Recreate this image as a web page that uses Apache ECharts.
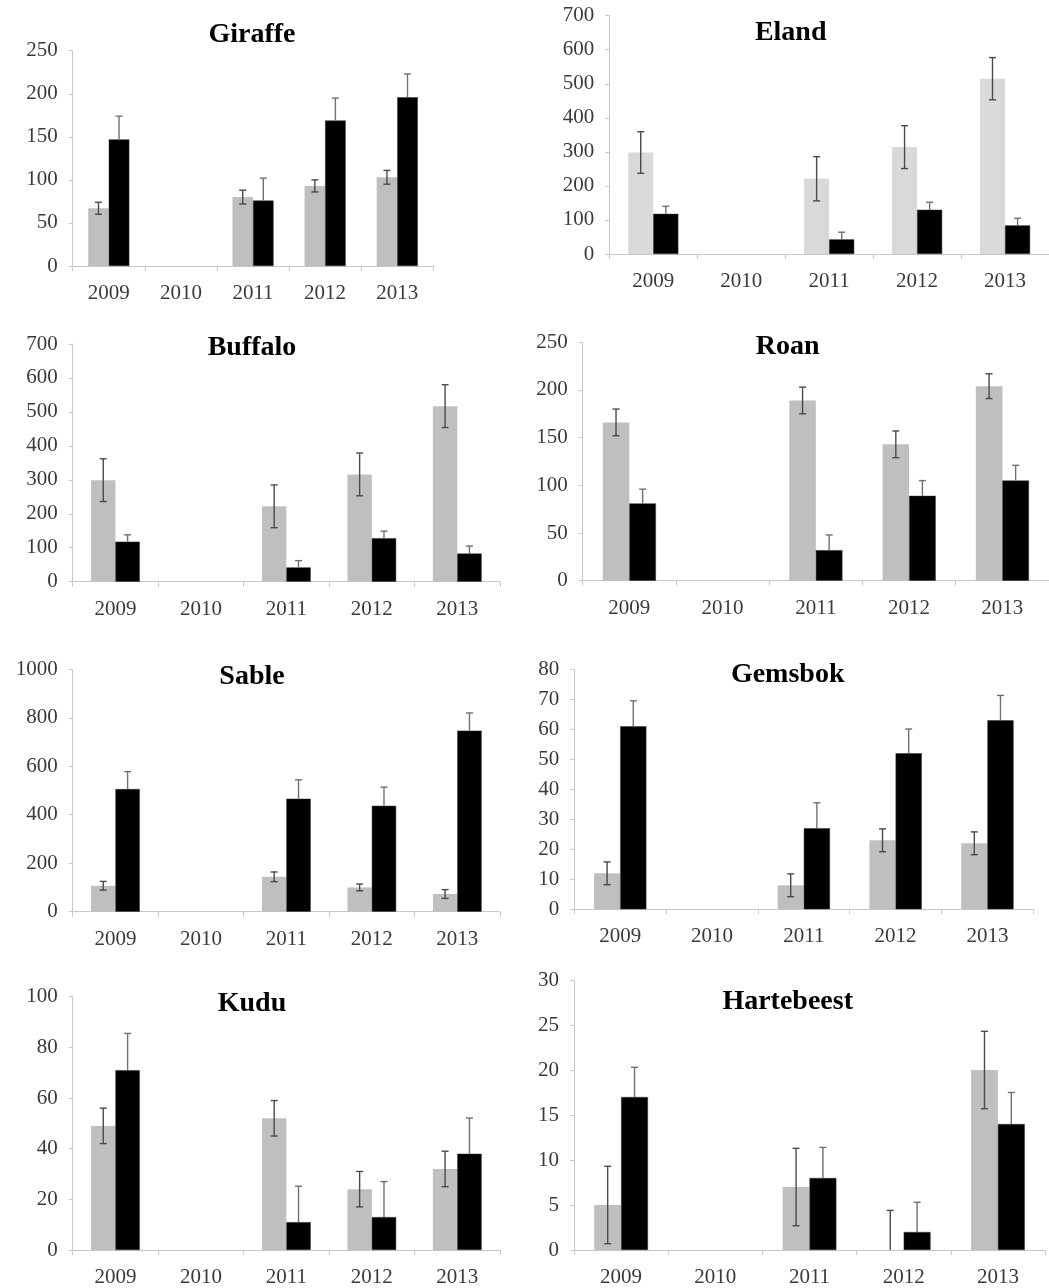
<!DOCTYPE html>
<html>
<head>
<meta charset="utf-8">
<script src="https://cdn.jsdelivr.net/npm/echarts@6/dist/echarts.min.js"></script>
<style>html,body{margin:0;padding:0;background:#fff;}#c{width:1049px;height:1288px;}</style>
</head>
<body>
<div id="c"></div>
<script>
const categories = ['2009', '2010', '2011', '2012', '2013'];

const giraffeGray = [67, null, 80, 93, 103];
const giraffeGrayErr = [7, null, 8, 7, 8];
const giraffeBlack = [147, null, 76, 169, 196];
const giraffeBlackErr = [27, null, 26, 26, 27];

const elandGray = [298, null, 221, 314, 515];
const elandGrayErr = [61, null, 65, 63, 62];
const elandBlack = [118, null, 43, 130, 84];
const elandBlackErr = [22, null, 21, 22, 21];

const buffaloGray = [299, null, 222, 316, 517];
const buffaloGrayErr = [63, null, 63, 63, 63];
const buffaloBlack = [118, null, 42, 128, 83];
const buffaloBlackErr = [20, null, 20, 21, 22];

const roanGray = [166, null, 189, 143, 204];
const roanGrayErr = [14, null, 14, 14, 13];
const roanBlack = [81, null, 32, 89, 105];
const roanBlackErr = [15, null, 16, 16, 16];

const sableGray = [107, null, 144, 100, 73];
const sableGrayErr = [18, null, 20, 14, 18];
const sableBlack = [506, null, 466, 437, 747];
const sableBlackErr = [72, null, 78, 77, 73];

const gemsbokGray = [12, null, 8, 23, 22];
const gemsbokGrayErr = [3.8, null, 3.8, 3.8, 3.8];
const gemsbokBlack = [61, null, 27, 52, 63];
const gemsbokBlackErr = [8.5, null, 8.5, 8.1, 8.3];

const kuduGray = [49, null, 52, 24, 32];
const kuduGrayErr = [7, null, 7, 7, 7];
const kuduBlack = [71, null, 11, 13, 38];
const kuduBlackErr = [14.5, null, 14.2, 14, 14.1];

const hartebeestGray = [5, null, 7, 0, 20];
const hartebeestGrayErr = [4.3, null, 4.3, 4.4, 4.3];
const hartebeestBlack = [17, null, 8, 2, 14];
const hartebeestBlackErr = [3.3, null, 3.4, 3.3, 3.5];

// panel definitions (layout kept separate from data)
const panels = [
  {name: 'Giraffe', gray: giraffeGray, grayErr: giraffeGrayErr, black: giraffeBlack, blackErr: giraffeBlackErr, max: 250, interval: 50, grayColor: '#bfbfbf',
   grid: {left: 72.7, top: 50.7, width: 360.6, height: 215.3}, title: [252, 35]},
  {name: 'Eland', gray: elandGray, grayErr: elandGrayErr, black: elandBlack, blackErr: elandBlackErr, max: 700, interval: 100, grayColor: '#d9d9d9',
   grid: {left: 609.3, top: 15.7, width: 444.5, height: 238.3}, title: [790.7, 33]},
  {name: 'Buffalo', gray: buffaloGray, grayErr: buffaloGrayErr, black: buffaloBlack, blackErr: buffaloBlackErr, max: 700, interval: 100, grayColor: '#bfbfbf',
   grid: {left: 72.7, top: 344, width: 427.3, height: 237.7}, title: [252, 348]},
  {name: 'Roan', gray: roanGray, grayErr: roanGrayErr, black: roanBlack, blackErr: roanBlackErr, max: 250, interval: 50, grayColor: '#bfbfbf',
   grid: {left: 582.7, top: 342.3, width: 472, height: 238.4}, title: [787.7, 346.7]},
  {name: 'Sable', gray: sableGray, grayErr: sableGrayErr, black: sableBlack, blackErr: sableBlackErr, max: 1000, interval: 200, grayColor: '#bfbfbf',
   grid: {left: 72.7, top: 669.3, width: 427.3, height: 242.4}, title: [252, 676.7]},
  {name: 'Gemsbok', gray: gemsbokGray, grayErr: gemsbokGrayErr, black: gemsbokBlack, blackErr: gemsbokBlackErr, max: 80, interval: 10, grayColor: '#bfbfbf',
   grid: {left: 574.3, top: 669.3, width: 459, height: 240}, title: [787.7, 675]},
  {name: 'Kudu', gray: kuduGray, grayErr: kuduGrayErr, black: kuduBlack, blackErr: kuduBlackErr, max: 100, interval: 20, grayColor: '#bfbfbf',
   grid: {left: 72.7, top: 996.7, width: 427.3, height: 253.3}, title: [252, 1003.3]},
  {name: 'Hartebeest', gray: hartebeestGray, grayErr: hartebeestGrayErr, black: hartebeestBlack, blackErr: hartebeestBlackErr, max: 30, interval: 5, grayColor: '#bfbfbf',
   grid: {left: 574, top: 980, width: 471, height: 272.3}, title: [787.7, 1001.7]}
];

const FONT = "'Liberation Serif', 'Times New Roman', serif";
const GAP = 0.43;

function errRenderer(side, full, color) {
  return function (params, api) {
    const i = api.value(0), v = api.value(1), e = api.value(2);
    const catW = api.size([1, 0])[0];
    const bw = catW * (1 - GAP) / 2;
    const x = api.coord([i, 0])[0] + side * bw / 2;
    const top = api.coord([i, v + e])[1];
    const lowVal = full ? Math.max(0, v - e) : v;
    const bottom = api.coord([i, lowVal])[1];
    const cap = 3.5;
    const style = {stroke: color, lineWidth: 1.4};
    const children = [
      {type: 'line', shape: {x1: x, y1: bottom, x2: x, y2: top}, style: style},
      {type: 'line', shape: {x1: x - cap, y1: top, x2: x + cap, y2: top}, style: style}
    ];
    if (full && v - e > 0) {
      children.push({type: 'line', shape: {x1: x - cap, y1: bottom, x2: x + cap, y2: bottom}, style: style});
    }
    return {type: 'group', children: children};
  };
}

function errData(vals, errs) {
  const out = [];
  vals.forEach((v, i) => { if (v !== null && errs[i] !== null) out.push([i, v, errs[i]]); });
  return out;
}

const option = {
  animation: false,
  backgroundColor: '#fff',
  grid: [], xAxis: [], yAxis: [], series: [], graphic: []
};

panels.forEach((p, k) => {
  option.grid.push(Object.assign({containLabel: false}, p.grid));
  option.xAxis.push({
    type: 'category', gridIndex: k, data: categories, boundaryGap: true,
    axisLine: {lineStyle: {color: '#c8c8c8', width: 1}},
    axisTick: {show: true, interval: 0, length: 5, lineStyle: {color: '#c8c8c8'}},
    axisLabel: {interval: 0, margin: 17, fontFamily: FONT, fontSize: 21, color: '#3a3a3a'}
  });
  option.yAxis.push({
    type: 'value', gridIndex: k, min: 0, max: p.max, interval: p.interval,
    splitLine: {show: false},
    axisLine: {show: true, lineStyle: {color: '#c8c8c8', width: 1}},
    axisTick: {show: true, length: 4, lineStyle: {color: '#c8c8c8'}},
    axisLabel: {margin: 15, fontFamily: FONT, fontSize: 21, color: '#3a3a3a', formatter: v => String(v)}
  });
  option.series.push({
    type: 'bar', xAxisIndex: k, yAxisIndex: k, data: p.gray,
    barGap: '0%', barCategoryGap: (GAP * 100) + '%',
    itemStyle: {color: p.grayColor}, z: 2
  });
  option.series.push({
    type: 'bar', xAxisIndex: k, yAxisIndex: k, data: p.black,
    barGap: '0%', barCategoryGap: (GAP * 100) + '%',
    itemStyle: {color: '#000', borderColor: '#333', borderWidth: 0.5}, z: 2
  });
  option.series.push({
    type: 'custom', xAxisIndex: k, yAxisIndex: k, data: errData(p.gray, p.grayErr),
    renderItem: errRenderer(-1, true, '#4a4a4a'), z: 5, clip: false
  });
  option.series.push({
    type: 'custom', xAxisIndex: k, yAxisIndex: k, data: errData(p.black, p.blackErr),
    renderItem: errRenderer(1, false, '#707070'), z: 5, clip: false
  });
  option.graphic.push({
    type: 'text', x: p.title[0], y: p.title[1],
    style: {text: p.name, font: "bold 28px " + FONT, fill: '#000', textAlign: 'center', textVerticalAlign: 'middle'}
  });
});

const chart = echarts.init(document.getElementById('c'), null, {renderer: 'canvas'});
chart.setOption(option);
</script>
</body>
</html>
